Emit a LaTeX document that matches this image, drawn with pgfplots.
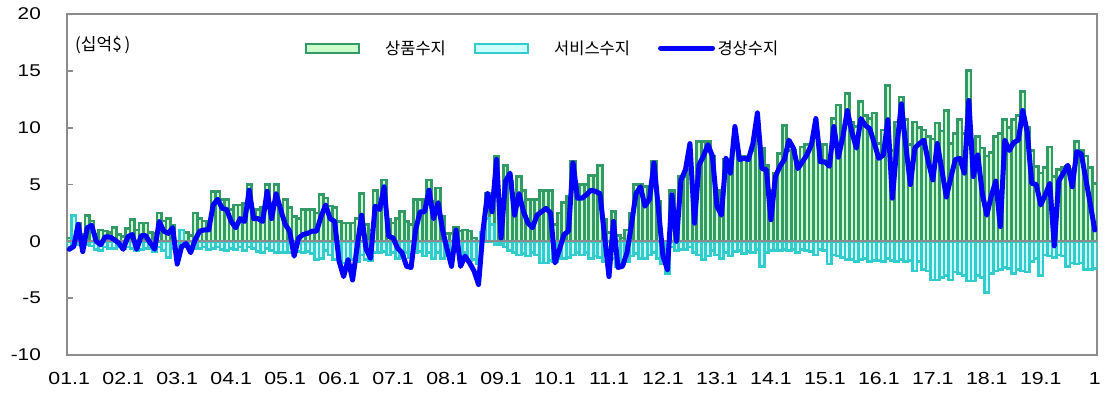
\documentclass[border=0pt]{standalone}
\usepackage{fontspec}
\setmainfont{Liberation Sans}
\newfontfamily\kr{Noto Sans CJK KR}
\newfontfamily\tickfont[FakeStretch=1.22]{Liberation Sans}
\usepackage{pgfplots}
\usepackage{pgfplotstable}
\pgfplotsset{compat=1.18}

\definecolor{goodsfill}{HTML}{CCFFCC}
\definecolor{goodsline}{HTML}{339966}
\definecolor{svcfill}{HTML}{CCFFFF}
\definecolor{svcline}{HTML}{33CCCC}
\definecolor{framegray}{HTML}{8C8C8C}

% month index (0 = 2001.1), goods balance, services balance, current account
\pgfplotstableread{
i g s ca
0 0.3 -0.5 -0.7
1 0.5 2.3 -0.45
2 1.6 -0.3 1.5
3 0.6 -0.4 -0.9
4 2.3 -0.3 1.2
5 1.8 -0.4 1.4
6 0.6 -0.7 0.0
7 1.0 -0.8 -0.3
8 0.9 -0.5 0.4
9 0.8 -0.6 0.4
10 1.2 -0.6 0.15
11 0.6 -0.5 -0.15
12 0.4 -0.6 -0.7
13 1.1 -0.5 0.4
14 1.9 -0.6 0.6
15 1.0 -0.8 -0.7
16 1.6 -0.7 0.5
17 1.6 -0.6 0.5
18 0.8 -0.6 -0.15
19 0.7 -0.9 -0.7
20 2.5 -0.5 1.75
21 1.8 -0.8 0.9
22 2.0 -1.4 0.7
23 1.4 -0.6 1.2
24 0.0 -1.2 -2.0
25 1.0 1.0 -0.45
26 0.8 -0.5 -0.2
27 0.5 -0.7 -1.0
28 2.5 -0.6 0.15
29 2.0 -0.6 0.9
30 1.8 -0.5 1.0
31 1.8 -0.7 1.0
32 4.4 -0.6 3.2
33 4.4 -0.5 3.7
34 3.7 -0.7 2.9
35 3.7 -0.8 2.8
36 2.8 -0.6 1.75
37 3.2 -0.7 1.2
38 3.2 -0.5 2.0
39 3.3 -0.8 1.75
40 5.0 -0.5 4.5
41 2.8 -0.6 2.0
42 2.8 -0.9 2.0
43 3.0 -1.0 1.75
44 5.0 -0.6 4.4
45 3.0 -0.8 2.0
46 5.0 -1.0 4.2
47 3.1 -1.0 2.8
48 3.7 -1.0 1.5
49 3.0 -1.0 0.9
50 2.2 -0.9 -1.3
51 2.0 -0.9 0.3
52 2.8 -1.0 0.6
53 2.8 -0.9 0.7
54 2.8 -1.1 0.9
55 2.5 -1.6 0.9
56 4.1 -1.5 2.2
57 3.8 -0.8 3.2
58 3.1 -1.2 2.0
59 3.0 -1.6 1.75
60 1.75 -1.5 -1.75
61 1.6 -1.9 -3.1
62 1.6 -1.6 -1.6
63 1.6 -1.6 -3.4
64 2.0 -1.8 -0.5
65 4.2 -1.2 2.3
66 1.5 -1.6 -0.7
67 1.0 -1.7 -1.5
68 4.5 -1.0 3.1
69 3.4 -1.0 2.8
70 5.4 -0.9 4.8
71 1.9 -1.2 0.45
72 1.6 -1.0 0.3
73 2.0 -1.5 -0.6
74 2.6 -1.2 -1.0
75 1.75 -1.0 -2.2
76 1.5 -1.4 -2.3
77 3.7 -1.0 1.0
78 3.7 -0.9 2.6
79 3.7 -1.3 2.6
80 5.4 -1.0 4.5
81 3.5 -1.5 2.0
82 4.7 -1.0 3.4
83 2.2 -1.5 1.0
84 0.7 -1.3 -0.7
85 0.7 -1.5 -2.2
86 1.2 -0.9 1.0
87 0.9 -1.3 -2.2
88 1.0 -1.0 -1.3
89 0.9 -1.7 -1.9
90 0.3 -1.6 -2.6
91 -0.5 -2.0 -3.8
92 0.4 0.8 1.0
93 4.2 2.0 4.2
94 3.0 1.5 2.6
95 7.5 -0.3 7.2
96 0.7 -0.3 0.3
97 6.7 -0.5 5.3
98 5.3 -0.8 6.0
99 4.2 -1.0 2.3
100 5.7 -1.2 4.2
101 4.5 -1.1 2.6
102 3.7 -1.3 1.6
103 3.7 -1.0 1.2
104 3.7 -1.2 2.3
105 4.5 -1.9 2.6
106 4.5 -1.9 2.9
107 4.5 -1.7 2.5
108 1.5 -1.8 -1.9
109 2.5 -1.5 -0.7
110 3.4 -1.5 0.6
111 4.0 -1.4 0.9
112 7.0 -1.2 6.9
113 4.8 -1.0 3.8
114 5.0 -1.2 3.8
115 5.0 -1.0 4.1
116 5.8 -1.5 4.5
117 5.8 -1.3 4.4
118 6.7 -1.4 4.2
119 1.9 -1.8 0.5
120 0.8 -1.3 -3.1
121 2.6 -1.5 1.75
122 0.5 -2.2 -2.3
123 0.3 -2.0 -2.2
124 1.0 -1.8 -1.0
125 2.5 -1.3 1.5
126 5.0 -1.1 4.2
127 5.0 -1.5 4.8
128 4.8 -1.5 3.1
129 4.0 -1.2 3.7
130 7.0 -1.0 6.9
131 3.5 -1.5 2.8
132 -0.2 -2.0 -1.3
133 0.0 -2.8 -2.5
134 4.5 -0.5 4.1
135 2.0 -0.8 0.0
136 5.7 -0.7 5.4
137 5.7 -0.7 6.3
138 6.3 -0.5 8.6
139 4.5 -1.0 1.6
140 8.8 -1.2 6.7
141 8.8 -1.6 7.5
142 8.8 -1.3 8.5
143 7.5 -0.8 7.5
144 4.2 -1.2 3.1
145 4.5 -1.5 2.3
146 7.2 -1.0 7.3
147 6.5 -1.3 6.0
148 9.0 -0.9 10.1
149 7.5 -0.8 7.2
150 7.5 -1.1 7.3
151 7.3 -0.9 7.2
152 8.0 -1.0 8.6
153 9.6 -0.7 11.3
154 8.2 -2.2 6.4
155 6.7 -1.0 6.3
156 4.5 -0.8 1.9
157 6.0 -0.8 5.7
158 7.7 -0.8 6.6
159 10.2 -0.7 7.2
160 8.0 -0.8 8.9
161 8.0 -0.7 8.2
162 7.0 -1.0 6.4
163 8.3 -0.7 7.0
164 8.5 -0.8 7.6
165 8.5 -0.9 8.5
166 9.4 -1.2 10.8
167 7.0 -0.7 7.0
168 8.5 -0.8 7.0
169 7.5 -2.0 6.6
170 10.8 -1.2 10.1
171 12.0 -1.3 7.4
172 9.5 -1.4 9.2
173 13.0 -1.6 11.5
174 10.5 -1.6 9.6
175 10.1 -1.8 8.2
176 12.3 -1.6 10.8
177 11.1 -1.5 10.2
178 10.8 -1.8 9.9
179 11.3 -1.7 8.6
180 8.6 -1.7 7.3
181 9.8 -1.8 7.6
182 13.7 -1.5 10.7
183 8.0 -1.7 3.8
184 10.5 -1.8 8.3
185 12.7 -1.6 12.1
186 10.7 -1.8 8.4
187 8.5 -1.7 5.0
188 10.5 -2.6 8.2
189 10.0 -1.8 8.6
190 9.8 -2.5 8.9
191 9.2 -2.6 7.0
192 9.0 -3.4 5.4
193 10.4 -3.4 8.6
194 9.7 -3.2 6.3
195 11.5 -3.0 3.9
196 8.6 -3.4 5.6
197 9.5 -2.7 7.2
198 10.7 -2.8 7.3
199 9.5 -3.0 6.0
200 15.0 -3.5 12.4
201 8.9 -3.5 5.7
202 9.2 -3.0 7.6
203 8.2 -3.2 4.2
204 7.5 -4.5 2.3
205 7.8 -2.8 4.0
206 9.2 -2.6 5.3
207 9.5 -2.5 1.3
208 10.7 -2.3 8.9
209 10.0 -2.4 8.0
210 10.7 -2.8 8.7
211 11.1 -2.5 8.9
212 13.2 -2.6 11.5
213 10.0 -2.7 9.6
214 8.0 -1.8 5.1
215 6.6 -1.5 5.0
216 6.0 -3.0 3.2
217 6.5 -1.2 4.1
218 8.3 -1.3 5.1
219 5.7 -1.4 -0.4
220 6.3 -1.2 5.3
221 6.5 -1.3 6.0
222 6.6 -2.2 6.7
223 6.3 -1.9 4.8
224 8.8 -2.0 7.9
225 8.0 -1.9 7.7
226 7.5 -2.5 5.5
227 6.5 -2.5 3.3
228 5.1 -2.4 1.0
}\bop

\begin{document}
\begin{tikzpicture}
\begin{axis}[
    scale only axis,
    width=1030bp, height=341bp,
    xmin=-0.5, xmax=228.5,
    ymin=-10, ymax=20,
    axis line style={framegray, line width=1.8bp},
    ytick={-10,-5,0,5,10,15,20},
    yticklabels={-10,-5,0,5,10,15,20},
    xtick={0,12,...,228},
    xticklabels={01.1,02.1,03.1,04.1,05.1,06.1,07.1,08.1,09.1,10.1,11.1,12.1,13.1,14.1,15.1,16.1,17.1,18.1,19.1,1},
    major x tick style={draw=none},
    ytick pos=left,
    tick align=inside,
    major tick length=6bp,
    major y tick style={framegray, line width=1.8bp},
    yticklabel style={font=\tickfont\fontsize{17bp}{17bp}\selectfont, inner sep=0pt, xshift=-26bp},
    xticklabel style={font=\tickfont\fontsize{17.5bp}{17.5bp}\selectfont, inner sep=0pt, yshift=-17bp},
    legend columns=3,
    legend style={at={(rel axis cs:0.231,0.90)}, anchor=west, draw=none, fill=none,
        inner sep=0pt, outer sep=0pt,
        font=\kr\fontsize{16.5bp}{18bp}\selectfont,
        nodes={inner sep=0pt},
        /tikz/every odd column/.append style={column sep=0bp},
        /tikz/every even column/.append style={column sep=28bp}},
    legend cell align=left,
]
\addplot[ybar, bar width=1.0, bar shift=0pt, draw=goodsline, fill=goodsfill, line width=2.7bp,
    legend image code/.code={\draw[draw=goodsline, fill=goodsfill, line width=1.8bp] (0bp,-4.5bp) rectangle (53bp,4.5bp); \path (78bp,0bp);}]
    table[x=i, y=g] {\bop};
\addplot[ybar, bar width=1.0, bar shift=0pt, draw=svcline, fill=svcfill, line width=2.7bp,
    legend image code/.code={\draw[draw=svcline, fill=svcfill, line width=1.8bp] (0bp,-4.5bp) rectangle (53bp,4.5bp); \path (78bp,0bp);}]
    table[x=i, y=s] {\bop};
\draw[framegray, line width=1.8bp] (axis cs:-0.5,0) -- (axis cs:228.5,0);
\addplot[blue, line width=5bp, line join=round, line cap=round, mark=none,
    legend image code/.code={\draw[blue, line width=5bp, line cap=round] (2.5bp,0bp) -- (54.5bp,0bp); \path (57bp,0bp);}]
    table[x=i, y=ca] {\bop};
\legend{상품수지, 서비스수지, 경상수지}
\node[anchor=west, inner sep=0pt, font=\kr\fontsize{17bp}{17bp}\selectfont] at (rel axis cs:0.0078,0.909) {(십억\$\,)};
\end{axis}
\path ([shift={(-67bp,-38bp)}]current axis.south west) rectangle ([shift={(10bp,14bp)}]current axis.north east);
\end{tikzpicture}
\end{document}
